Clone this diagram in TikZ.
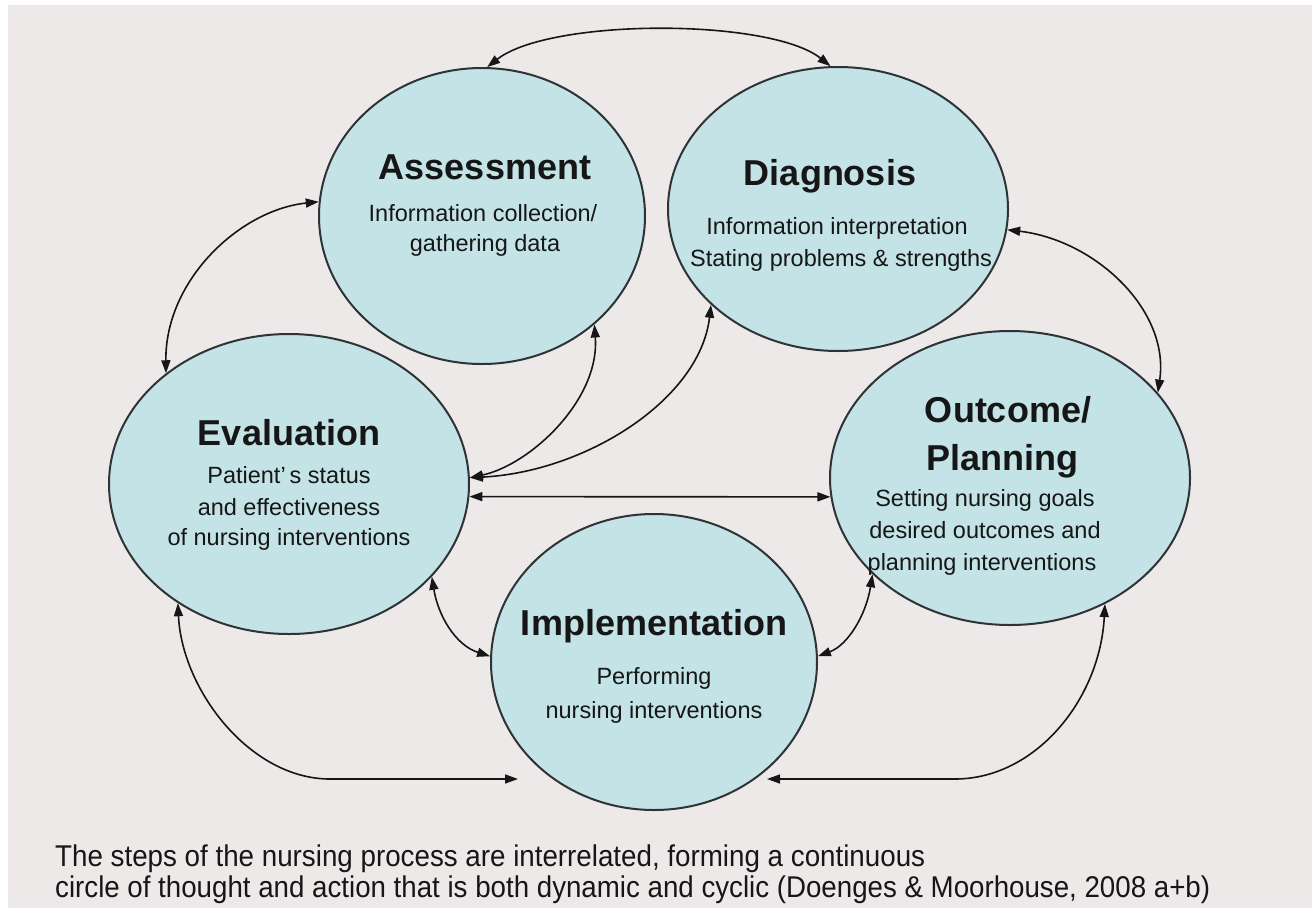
\documentclass[tikz,border=0pt]{standalone}
\usepackage{fontspec}
\usepackage{graphicx}
\setmainfont{Liberation Sans}
\usetikzlibrary{shapes.geometric,arrows.meta}
\definecolor{paper}{HTML}{EDE9E8}
\definecolor{cellfill}{HTML}{C4E3E7}
\definecolor{rim}{HTML}{2F3336}
\definecolor{ink}{HTML}{161616}

\begin{document}
\begin{tikzpicture}[x=1pt,y=-1pt,
  stage/.style={ellipse, draw=rim, line width=2pt, fill=cellfill, inner sep=0pt},
  title/.style={font=\fontsize{36}{42}\selectfont\bfseries, anchor=base, inner sep=0pt, text=ink},
  body/.style={font=\fontsize{23.5}{28}\selectfont, anchor=base, inner sep=0pt, text=ink},
  note/.style={font=\fontsize{30}{36}\selectfont, anchor=base west, inner sep=0pt, text=ink},
  link/.style={line width=1.6pt, draw=ink,
    {Triangle[length=13pt,width=9pt]}-{Triangle[length=13pt,width=9pt]}},
]
% page
\useasboundingbox (0,0) rectangle (1312,908);
\fill[white] (0,0) rectangle (1312,908);
\fill[paper] (8,5) rectangle (1312,908);

% the five stages
\node[stage, minimum width=326pt, minimum height=296pt] (ass) at (482,216) {};
\node[stage, minimum width=340pt, minimum height=284pt] (dia) at (838,209) {};
\node[stage, minimum width=360pt, minimum height=300pt] (eva) at (289,484) {};
\node[stage, minimum width=360pt, minimum height=294pt] (out) at (1010,478) {};
\node[stage, minimum width=326pt, minimum height=296pt] (imp) at (654,662) {};

% stage texts
\node[title] (assT) at (485,179) {Assessment};
\node[body]  (assA) at (483,221) {Information collection/};
\node[body]  (assB) at (485,251) {gathering data};

\node[title] (diaT) at (830,185) {Diagnosis};
\node[body]  (diaA) at (837,234) {Information interpretation};
\node[body]  (diaB) at (841,266) {Stating problems \& strengths};

\node[title] (evaT) at (289,445) {Evaluation};
\node[body]  (evaA) at (289,483) {Patient'\,s status};
\node[body]  (evaB) at (289,515) {and effectiveness};
\node[body]  (evaC) at (289,545) {of nursing interventions};

\node[title] (outT) at (1008,422) {Outcome/};
\node[title] (outU) at (1002,470) {Planning};
\node[body]  (outA) at (985,506) {Setting nursing goals};
\node[body]  (outB) at (985,538) {desired outcomes and};
\node[body]  (outC) at (982,570) {planning interventions};

\node[title] (impT) at (654,635) {Implementation};
\node[body]  (impA) at (654,684) {Performing};
\node[body]  (impB) at (654,718) {nursing interventions};

% free ends of the two lower loops
\coordinate (impL) at (518,779);
\coordinate (impR) at (767,779);

% connectors
\draw[link] (ass.88) .. controls (550,18) and (770,18) .. (dia.93);
\draw[link] (ass.175) .. controls (240,210) and (165,280) .. (eva.138);
\draw[link] (dia.-7) .. controls (1095,240) and (1170,310) .. (out.30);
\draw[link] (eva.2) .. controls (530,465) and (600,400) .. (ass.-44);
\draw[link] (eva.2) .. controls (585,472) and (700,400) .. (dia.217);
\draw[link] (eva.-4) -- (out.186);
\draw[link] (eva.-33) .. controls (438,615) and (455,645) .. (imp.178);
\draw[link] (out.215) .. controls (866,615) and (848,645) .. (imp.2);
\draw[link] (eva.227) .. controls (182,690) and (250,779) .. (330,779) -- (impL);
\draw[link] (out.-53) .. controls (1100,700) and (1035,779) .. (955,779) -- (impR);

% caption
\node[note] (cap1) at (55,866) {\resizebox{870pt}{\height}{The steps of the nursing process are interrelated, forming a continuous}};
\node[note] (cap2) at (55,897) {\resizebox{1155pt}{\height}{circle of thought and action that is both dynamic and cyclic (Doenges \& Moorhouse, 2008 a+b)}};
\end{tikzpicture}
\end{document}
